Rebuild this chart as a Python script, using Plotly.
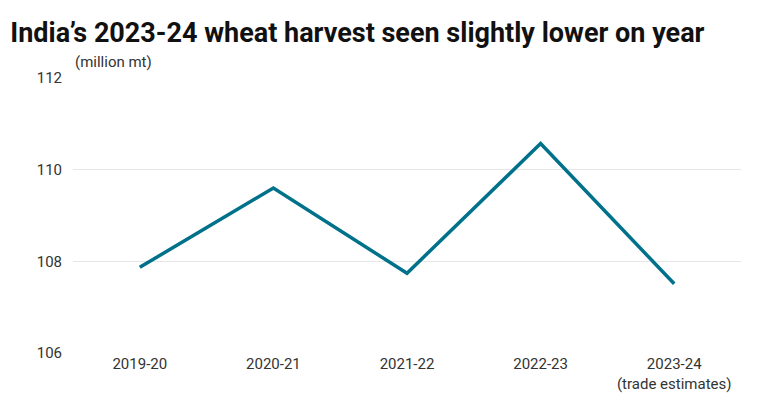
import plotly.graph_objects as go

seasons = ["2019-20", "2020-21", "2021-22", "2022-23", "2023-24<br>(trade estimates)"]
harvest = [107.87, 109.6, 107.74, 110.57, 107.51]
y_ticks = [106, 108, 110, 112]

fig = go.Figure(go.Scatter(x=seasons, y=harvest, mode="lines",
                           line=dict(color="#00718a", width=3.5)))
fig.update_layout(
    width=757, height=413, paper_bgcolor="white", plot_bgcolor="white",
    margin=dict(l=65, r=24, t=70, b=68), showlegend=False,
    font=dict(family="Roboto", size=15, color="#333"),
    title=dict(text="<b>India’s 2023-24 wheat harvest seen slightly lower on year</b>",
               x=0.003, xanchor="left", y=0.94, yanchor="middle",
               font=dict(size=27, color="#111")),
    xaxis=dict(showgrid=False, showline=False, ticks="", range=[-0.5, 4.5],
               automargin=False, tickfont=dict(size=15, color="#333")),
    yaxis=dict(range=[106, 112], tickvals=y_ticks, gridcolor="#e6e6e6",
               zeroline=False, ticks="", ticklabelstandoff=10, automargin=False,
               tickfont=dict(size=15, color="#333")),
    annotations=[
        dict(text="(million mt)", xref="paper", yref="paper", x=0, y=1.02,
             xanchor="left", yanchor="bottom", showarrow=False,
             font=dict(size=15, color="#333")),
        dict(text="Source: Ministry of Agriculture, trade", xref="paper", yref="paper",
             x=-0.085, y=-0.2, xanchor="left", yanchor="top", showarrow=False,
             font=dict(size=15, color="#333")),
    ],
)
fig.write_html("out.html")
